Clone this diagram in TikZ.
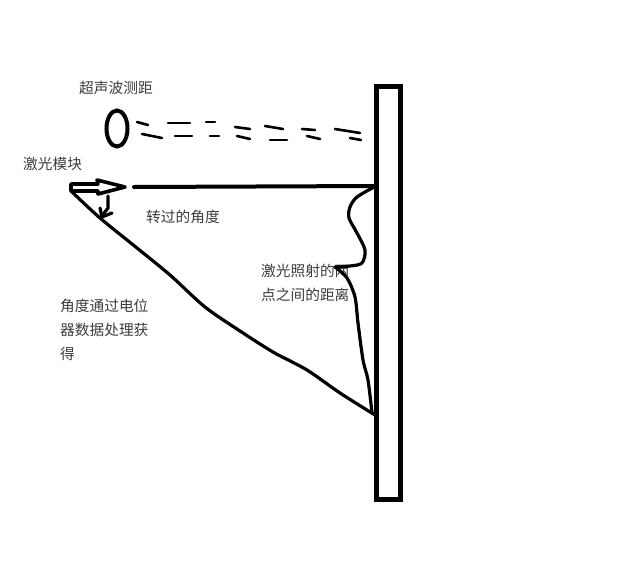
\documentclass[tikz,border=0pt]{standalone}
\usepackage{fontspec}
\usetikzlibrary{shapes.geometric}
\newfontfamily\cjk{Noto Sans CJK SC}
\definecolor{labelgray}{HTML}{3C3C3C}
\tikzset{
  label text/.style={font=\cjk\fontsize{14.7}{24}\selectfont, text=labelgray,
                     inner sep=0pt, anchor=west, align=left},
  stroke/.style={draw=black, line width=3.2pt, line cap=round, line join=round},
  echo/.style={stroke, line width=2.6pt},
}

\begin{document}
\begin{tikzpicture}[x=1pt, y=-1pt]
    \useasboundingbox (0, 0) rectangle (636, 573);
    \node[label text] (sonartext) at (79, 88) {超声波测距};
    \node[label text] (lasertext) at (23, 164) {激光模块};
    \node[label text] (angletext) at (146, 217) {转过的角度};
    \node[label text] (spantext) at (261, 283) {激光照射的两\\点之间的距离};
    \node[label text] (sourcetext) at (60, 330) {角度通过电位\\器数据处理获\\得};

    \node[draw, line width=5pt, minimum width=24.5pt, minimum height=413pt, inner sep=0pt] (wall) at (388.5, 292.5) {};
    \node[ellipse, draw, line width=4pt, minimum width=21pt, minimum height=36pt, inner sep=0pt] (sonar) at (117, 128.5) {};

    \foreach \xa/\ya/\xb/\yb in {137/122/148/125, 142/134/162/138, 168/123/190/123, 175/136/192/136,
        206/122/215/122, 210/136/219/136, 235/127/250/129, 237/136/250/139, 265/126/283/129,
        270/140/287/140, 302/129/315/130, 307/136/320/139, 335/129/360/133, 350/138/361/140}
      \draw[echo] (\xa, \ya) -- (\xb, \yb);

    \coordinate (lasertail) at (71, 191);
    \coordinate (beamstart) at (134, 187);
    \coordinate (beamtop) at (376, 186);
    \coordinate (beamlow) at (375, 415);
    \draw[stroke, line width=3.6pt] (71, 184) -- (98, 184) -- (97, 180) -- (125, 187) -- (98, 194) -- (98, 191) -- (lasertail) -- cycle;
    \draw[stroke, line width=4pt] (beamstart) -- (beamtop);

    \draw[stroke] plot[smooth, tension=0.5] coordinates {(lasertail) (100, 218) (137, 248) (170, 275)
      (205, 307) (240, 331) (273, 352) (307, 370) (340, 393) (beamlow)};

    \draw[stroke] (108, 196) -- (108, 208) -- (101, 217);
    \draw[stroke] (100, 208) -- (102, 217) -- (112, 213);

    \draw[stroke] plot[smooth, tension=0.5] coordinates {(beamtop) (357, 197) (350, 207) (349, 218) (357, 233)
      (365, 250) (362, 263) (350, 266) (335, 267)};
    \draw[stroke] plot[smooth, tension=0.5] coordinates {(335, 267) (347, 278) (355, 297) (358, 323)
      (363, 360) (368, 380) (372, 413)};
  \end{tikzpicture}
\end{document}
